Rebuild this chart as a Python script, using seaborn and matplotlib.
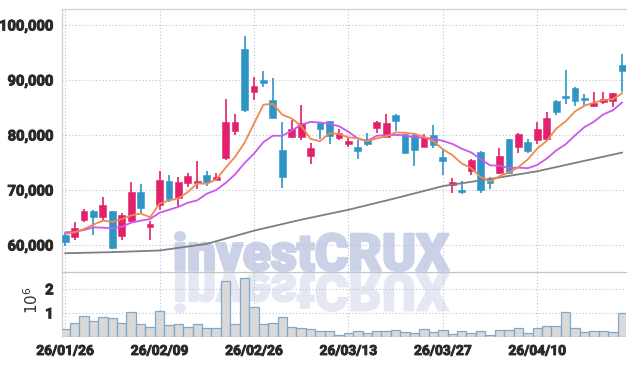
import numpy as np
import matplotlib
matplotlib.use("Agg")
import matplotlib.pyplot as plt
import matplotlib.patheffects as pe
import seaborn as sns
from matplotlib.textpath import TextPath
from matplotlib.patches import PathPatch
from matplotlib.path import Path
from matplotlib.font_manager import FontProperties

# ---- data (one entry per trading day) ----
dates = ["26/01/26", "26/02/09", "26/02/26", "26/03/13", "26/03/27", "26/04/10"]
date_pos = [0, 10, 20, 30, 40, 50]

opens = [61800, 61500, 64500, 66200, 65000, 66200, 61700, 64400, 69600, 63300,
         67300, 71600, 68500, 71200, 71200, 72700, 71800, 75900, 80800, 95600,
         87900, 90000, 86400, 77300, 79600, 79700, 76100, 82200, 82500, 79500,
         78400, 77900, 79200, 81300, 79700, 83600, 80100, 80000, 77900, 80000,
         76000, 70900, 69900, 73500, 76900, 72100, 73000, 79200, 77800, 78800,
         79100, 79200, 86200, 87000, 88500, 86500, 85200, 86000, 86200, 92700]
highs = [62100, 64200, 66500, 66400, 68800, 66200, 65800, 71400, 71000, 64400,
         73500, 72700, 72400, 73000, 75300, 73500, 73100, 86500, 83900, 98000,
         90600, 91600, 90400, 82400, 82700, 85500, 78500, 82300, 82600, 81000,
         79700, 79100, 80400, 82600, 83800, 83800, 80200, 80200, 80100, 81900,
         77300, 72100, 71700, 75600, 77000, 72400, 77600, 79300, 80400, 79200,
         82300, 84100, 86300, 91800, 88800, 87400, 87900, 87900, 87600, 94800]
lows = [59800, 60900, 64200, 61800, 64500, 59200, 60900, 64000, 65800, 60900,
        66400, 67900, 67100, 70500, 70100, 70700, 71600, 75500, 80000, 84200,
        86400, 88700, 83000, 70300, 79500, 79100, 74700, 79200, 78300, 79000,
        77900, 75600, 78000, 80300, 79600, 80800, 76600, 74400, 77800, 77600,
        72700, 69500, 69200, 72700, 69400, 70100, 72900, 72900, 76700, 76700,
        78300, 79000, 83600, 85600, 85300, 85500, 85100, 85600, 85000, 87900]
closes = [60600, 63000, 66200, 65000, 67300, 59500, 65500, 69600, 66700, 63900,
          71900, 68400, 71500, 72500, 71700, 71500, 72300, 82300, 82300, 84500,
          88900, 89500, 83100, 72400, 81100, 82100, 77700, 81000, 79800, 80400,
          78900, 77000, 78300, 82300, 82100, 82600, 76700, 77300, 79700, 78100,
          75200, 71500, 69600, 75500, 70000, 71200, 76200, 73100, 80200, 77100,
          81100, 83100, 84200, 86800, 86200, 86300, 85900, 86500, 87600, 91700]
volume_m = [0.32, 0.57, 0.86, 0.65, 0.82, 0.78, 0.57, 1.03, 0.53, 0.42,
            1.07, 0.49, 0.53, 0.40, 0.53, 0.36, 0.36, 2.33, 0.54, 2.44,
            1.25, 0.54, 0.58, 0.83, 0.42, 0.38, 0.33, 0.25, 0.25, 0.08,
            0.17, 0.25, 0.17, 0.25, 0.25, 0.29, 0.21, 0.15, 0.33, 0.21,
            0.28, 0.13, 0.24, 0.17, 0.24, 0.08, 0.28, 0.28, 0.36, 0.15,
            0.36, 0.46, 0.46, 1.03, 0.36, 0.20, 0.24, 0.24, 0.20, 0.99]

# moving-average lines as drawn on the chart
ma_short = [62000, 62300, 62900, 63700, 64420, 64200, 64700, 65380, 65720, 65040,
            67520, 68100, 68480, 69640, 71200, 71120, 71900, 74060, 76020, 78580,
            82060, 85500, 85660, 83680, 83000, 81640, 79280, 78860, 80340, 80200,
            79560, 79420, 78880, 79380, 79720, 80460, 80400, 80200, 79680, 78880,
            77400, 76360, 74820, 73980, 72360, 71560, 72500, 73200, 74140, 75560,
            77540, 78920, 81140, 82460, 84280, 85320, 85880, 86340, 86500, 87600]
ma_mid = [62300, 62400, 62730, 63210, 63150, 63030, 63330, 64060, 64420, 64730,
          65860, 66400, 66930, 67680, 68120, 69320, 70000, 71270, 72830, 74890,
          76590, 78700, 79860, 79850, 80790, 81850, 82390, 82260, 82010, 81600,
          80600, 79350, 78870, 79860, 79960, 80010, 79910, 79540, 79530, 79300,
          78930, 78380, 77510, 76830, 75620, 74480, 74430, 74010, 74060, 73960,
          74550, 75710, 77170, 78300, 79920, 81430, 82400, 83740, 84480, 85940]
ma_long_pos = [0, 5, 10, 15, 20, 25, 30, 35, 40, 45, 50, 55, 59]
ma_long = [58500, 58700, 59000, 60200, 62600, 64600, 66400, 68500, 70700, 72000,
           73400, 75300, 76800]

UP = "#E2206B"
DOWN = "#2F95C7"
LABEL = "#2A2A2A"

sns.set_style("white")
plt.rcParams["font.family"] = ["Roboto", "DejaVu Sans"]

ylab_fp = FontProperties(family="Roboto", weight="bold", size=10.6)
xlab_fp = FontProperties(family="Roboto", weight="bold", size=9.9)
bolden = [pe.withStroke(linewidth=0.7, foreground=LABEL)]

W, H = 634, 366
fig = plt.figure(figsize=(W / 100, H / 100), dpi=100)
ax = fig.add_axes([62 / W, 1 - 272 / H, 564 / W, 263 / H])
axv = fig.add_axes([62 / W, 1 - 337 / H, 564 / W, 65 / H], sharex=ax)
for a in (ax, axv):
    a.set_facecolor("none")

idx = np.arange(len(opens))
o = np.array(opens)
c = np.array(closes)
col = np.where(c >= o, UP, DOWN)

# candles
ax.vlines(idx, lows, highs, colors=col, linewidth=1.2, zorder=2)
body_low = np.minimum(o, c)
body_h = np.maximum(np.abs(c - o), 350)
ax.bar(idx, body_h, bottom=body_low, width=0.72, color=col, edgecolor=col,
       linewidth=0.4, zorder=3)

# moving averages
sns.lineplot(x=ma_long_pos, y=ma_long, ax=ax, color="#7E7E7E", linewidth=1.3, zorder=4)
sns.lineplot(x=idx, y=ma_mid, ax=ax, color="#CB57EC", linewidth=1.3, zorder=4)
sns.lineplot(x=idx, y=ma_short, ax=ax, color="#F0894F", linewidth=1.3, zorder=5)

# volume
axv.bar(idx, np.array(volume_m) * 1e6, width=1.0, color="#D9D9D9",
        edgecolor="#80A8CC", linewidth=0.9, zorder=3)

ax.set_xlim(-0.33, 59.4)
ax.set_ylim(55090, 102900)
axv.set_ylim(0, 2.7e6)

grid_kw = dict(color="#BCC2DA", linestyle=(0, (1, 2)), linewidth=0.8)
yt = [60000, 70000, 80000, 90000, 100000]
ax.set_yticks(yt)
ax.set_yticklabels([f"{v:,}" for v in yt])
ax.set_xticks(date_pos)
axv.set_xticks(date_pos)
axv.set_xticklabels(dates)
axv.set_yticks([1e6, 2e6])
axv.set_yticklabels(["1", "2"])
for a in (ax, axv):
    a.grid(True, **grid_kw)
    a.set_axisbelow(True)
    a.set_xlabel("")
    a.set_ylabel("")
    a.tick_params(length=0, labelcolor=LABEL)
    for lab in a.get_yticklabels():
        lab.set_fontproperties(ylab_fp)
        lab.set_path_effects(bolden)
    for lab in a.get_xticklabels():
        lab.set_fontproperties(xlab_fp)
        lab.set_path_effects(bolden)
ax.tick_params(axis="y", pad=6)
axv.tick_params(axis="y", pad=6)
axv.tick_params(axis="x", pad=5)
ax.tick_params(labelbottom=False)

ax.spines["right"].set_visible(False)
ax.spines["top"].set_color("#D0D0D0")
ax.spines["left"].set_color("#D0D0D0")
ax.spines["bottom"].set_color("#C4C4C4")
for s in ("right", "top", "bottom"):
    axv.spines[s].set_visible(False)
axv.spines["left"].set_color("#D0D0D0")
for a in (ax, axv):
    for s in a.spines.values():
        s.set_linewidth(0.9)

fig.text(32 / W, 1 - 300 / H, r"$10^6$", rotation=90, ha="center", va="center",
         fontsize=11, color="#333333")

# watermark: real text, plus a faded mirror image below the baseline
WM = "#CBD1E6"
WM_REFL = "#E5E8F2"
wm_size = 37
wm_fp = FontProperties(family="Roboto", weight="black", size=wm_size)
fig.text(173 / W, 1 - 270.5 / H, "investCRUX", fontproperties=wm_fp,
         color=WM, ha="left", va="baseline", zorder=-1,
         path_effects=[pe.withStroke(linewidth=1.8, foreground=WM)])

tp = TextPath((0, 0), "investCRUX", size=100, prop=wm_fp)
ext = tp.get_extents()
k = wm_size * 100 / 72 / 100      # path units -> pixels
v = tp.vertices
px = 173 + v[:, 0] * k
py = 273.5 + (v[:, 1] - ext.y0) * k
verts = np.column_stack([px / W, 1 - py / H])
fig.add_artist(PathPatch(Path(verts, tp.codes), transform=fig.transFigure,
                         facecolor=WM_REFL, edgecolor=WM_REFL, linewidth=1.3,
                         zorder=-1))

fig.savefig("out.png", dpi=100)
